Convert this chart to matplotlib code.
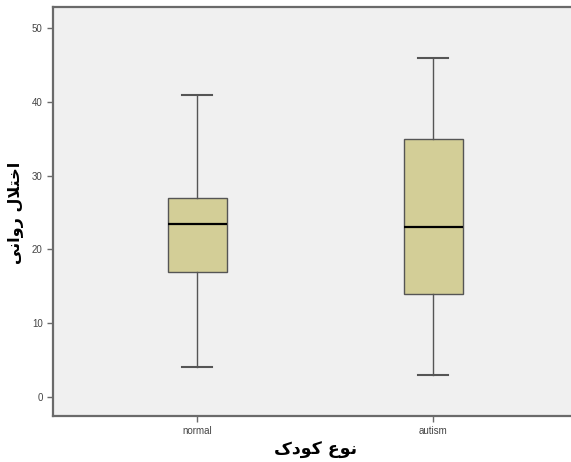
import matplotlib
matplotlib.use('Agg')
import matplotlib.pyplot as plt

# box statistics
groups = ['normal', 'autism']
whisker_low = [4, 3]
q1 = [17, 14]
median = [23.5, 23]
q3 = [27, 35]
whisker_high = [41, 46]

yticks = [0, 10, 20, 30, 40, 50]

# labels pre-shaped (Arabic presentation forms, visual order) since matplotlib has no bidi
xlabel = '\uFB8E\uFEA9\uFEEE\uFB90 \uFEC9\uFEEE\uFEE7'      # نوع کودک
ylabel = '\uFBFD\uFEE7\uFE8D\uFEED\uFEAD \uFEDD\uFEFC\uFE98\uFEA7\uFE8D'  # اختلال روانی

fig = plt.figure(figsize=(5.71, 4.62), dpi=100)
ax = fig.add_axes([53 / 571, 46 / 462, 1 - 53 / 571, (416 - 7) / 462])
ax.set_facecolor('#f0f0f0')

stats = []
for i, g in enumerate(groups):
    stats.append({'label': g, 'whislo': whisker_low[i], 'q1': q1[i], 'med': median[i],
                  'q3': q3[i], 'whishi': whisker_high[i], 'fliers': []})

edge = '#555555'
ax.bxp(stats, positions=[1, 2], widths=0.25, patch_artist=True, showfliers=False,
       boxprops=dict(facecolor='#d3ce97', edgecolor=edge, linewidth=1.0),
       medianprops=dict(color='black', linewidth=1.6),
       whiskerprops=dict(color=edge, linewidth=1.0),
       capprops=dict(color=edge, linewidth=1.5),
       capwidths=0.125)

ax.set_xlim(1 - 144 / 236, 1 + 374 / 236)
ax.set_ylim(-2.6, 52.9)
ax.set_yticks(yticks)
ax.set_xticks([1, 2])
ax.set_xticklabels(groups)

for s in ax.spines.values():
    s.set_color('#6a6a6a')
    s.set_linewidth(1.6)
ax.spines['right'].set_visible(False)

ax.tick_params(axis='both', labelsize=7, colors='#6a6a6a', labelcolor='#444444',
               length=4, width=1)
for t in ax.get_xticklabels() + ax.get_yticklabels():
    t.set_fontfamily(['Liberation Sans', 'DejaVu Sans'])

fig.text(316 / 571, 1 - 450 / 462, xlabel, ha='center', va='center',
         fontsize=12.5, fontweight='bold', family=['DejaVu Sans'])
fig.text(16 / 571, 1 - 213 / 462, ylabel, ha='center', va='center', rotation=90,
         fontsize=11.5, fontweight='bold', family=['DejaVu Sans'],
         bbox=dict(facecolor='white', edgecolor='none', pad=1))

fig.savefig('out.png', dpi=100)
